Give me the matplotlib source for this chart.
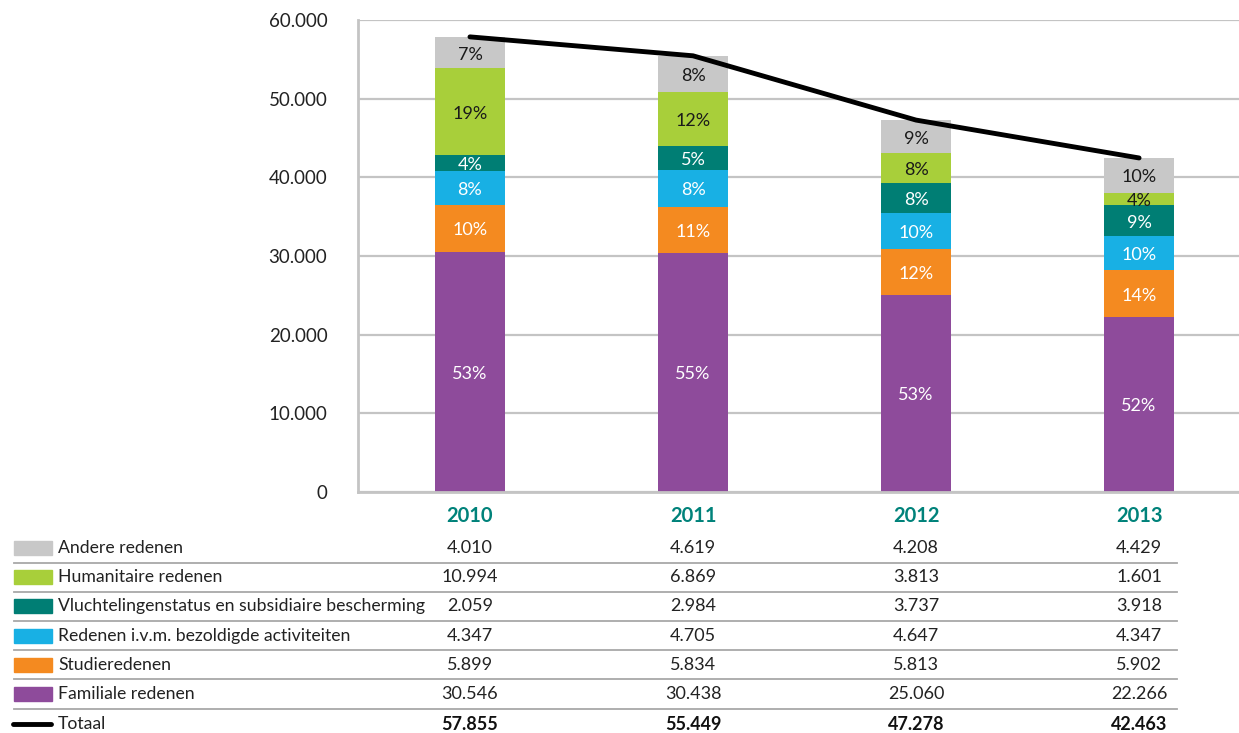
import numpy as np
import matplotlib
matplotlib.use("Agg")
import matplotlib.pyplot as plt
from matplotlib.lines import Line2D
from matplotlib.patches import Rectangle

plt.rcParams['font.family'] = ['Lato', 'DejaVu Sans']

years = ['2010', '2011', '2012', '2013']
categories = ['Familiale redenen', 'Studieredenen', 'Redenen i.v.m. bezoldigde activiteiten',
              'Vluchtelingenstatus en subsidiaire bescherming', 'Humanitaire redenen', 'Andere redenen']
familiale = [30546, 30438, 25060, 22266]
studie = [5899, 5834, 5813, 5902]
bezoldigd = [4347, 4705, 4647, 4347]
vluchteling = [2059, 2984, 3737, 3918]
humanitair = [10994, 6869, 3813, 1601]
andere = [4010, 4619, 4208, 4429]
totaal = [57855, 55449, 47278, 42463]
yticks = [0, 10000, 20000, 30000, 40000, 50000, 60000]

series = [familiale, studie, bezoldigd, vluchteling, humanitair, andere]
colors = ['#8e4b9b', '#f48a20', '#18b0e4', '#007e74', '#a8cf3a', '#c8c8c8']
label_colors = ['white', 'white', 'white', 'white', '#1a1a1a', '#1a1a1a']
teal = '#00827a'
grid_col = '#c4c4c4'


def fmt(v):
    return f"{v:,}".replace(",", ".")


W, H = 1239, 733
fig = plt.figure(figsize=(W / 100, H / 100), dpi=100)
ax = fig.add_axes([358 / W, 1 - 492 / H, 1 - 358 / W, (492 - 20) / H])

x = np.arange(len(years))
bottom = np.zeros(len(years))
for vals, c, lc in zip(series, colors, label_colors):
    vals = np.array(vals)
    ax.bar(x, vals, width=0.315, bottom=bottom, color=c, zorder=3)
    for i in range(len(years)):
        pct = round(vals[i] / totaal[i] * 100)
        ax.text(x[i], bottom[i] + vals[i] / 2 - 250, f"{pct}%", ha='center', va='center',
                color=lc, fontsize=13, zorder=5)
    bottom += vals

ax.plot(x, totaal, color='black', lw=3.5, zorder=4, solid_capstyle='round')

ax.set_xlim(-0.502, 3.448)
ax.set_ylim(0, 60000)
ax.set_yticks(yticks)
ax.set_yticklabels([fmt(t) for t in yticks], fontsize=13.5, color='#222222')
ax.tick_params(axis='y', length=0, pad=22)
ax.set_xticks(x)
ax.set_xticklabels(years, fontsize=14.5, fontweight='bold', color=teal)
ax.tick_params(axis='x', length=0, pad=10)
ax.grid(axis='y', color=grid_col, lw=1.6, zorder=0)
for s in ['top', 'right']:
    ax.spines[s].set_visible(False)
for s in ['left', 'bottom']:
    ax.spines[s].set_color(grid_col)
    ax.spines[s].set_linewidth(2)
    ax.spines[s].set_zorder(3.5)

# table below the chart
row_names = ['Andere redenen', 'Humanitaire redenen', 'Vluchtelingenstatus en subsidiaire bescherming',
             'Redenen i.v.m. bezoldigde activiteiten', 'Studieredenen', 'Familiale redenen']
row_series = [andere, humanitair, vluchteling, bezoldigd, studie, familiale]
row_colors = ['#c8c8c8', '#a8cf3a', '#007e74', '#18b0e4', '#f48a20', '#8e4b9b']
col_px = [470 + 223 * i for i in range(4)]
row_y0, row_step = 548, 29.2

for r, (name, vals, c) in enumerate(zip(row_names, row_series, row_colors)):
    yc = row_y0 + r * row_step
    fig.patches.append(Rectangle((14 / W, 1 - (yc + 7) / H), 38 / W, 14 / H,
                                 color=c, transform=fig.transFigure))
    fig.text(58 / W, 1 - yc / H, name, ha='left', va='center', fontsize=12.7, color='#222222')
    for cx, v in zip(col_px, vals):
        fig.text(cx / W, 1 - yc / H, fmt(v), ha='center', va='center', fontsize=13, color='#222222')
    ly = 1 - (yc + 14.6) / H
    fig.lines.append(Line2D([14 / W, 1177 / W], [ly, ly], color='#a8a8a8', lw=1.3,
                            transform=fig.transFigure))

yc = row_y0 + 6 * row_step + 1
fig.lines.append(Line2D([13 / W, 51 / W], [1 - yc / H, 1 - yc / H], color='black', lw=3.5,
                        solid_capstyle='round', transform=fig.transFigure))
fig.text(58 / W, 1 - yc / H, 'Totaal', ha='left', va='center', fontsize=12.7, color='#222222')
for cx, v in zip(col_px, totaal):
    fig.text(cx / W, 1 - yc / H, fmt(v), ha='center', va='center', fontsize=13,
             fontweight='bold', color='#111111')

fig.savefig('out.png', dpi=100, facecolor='white')
